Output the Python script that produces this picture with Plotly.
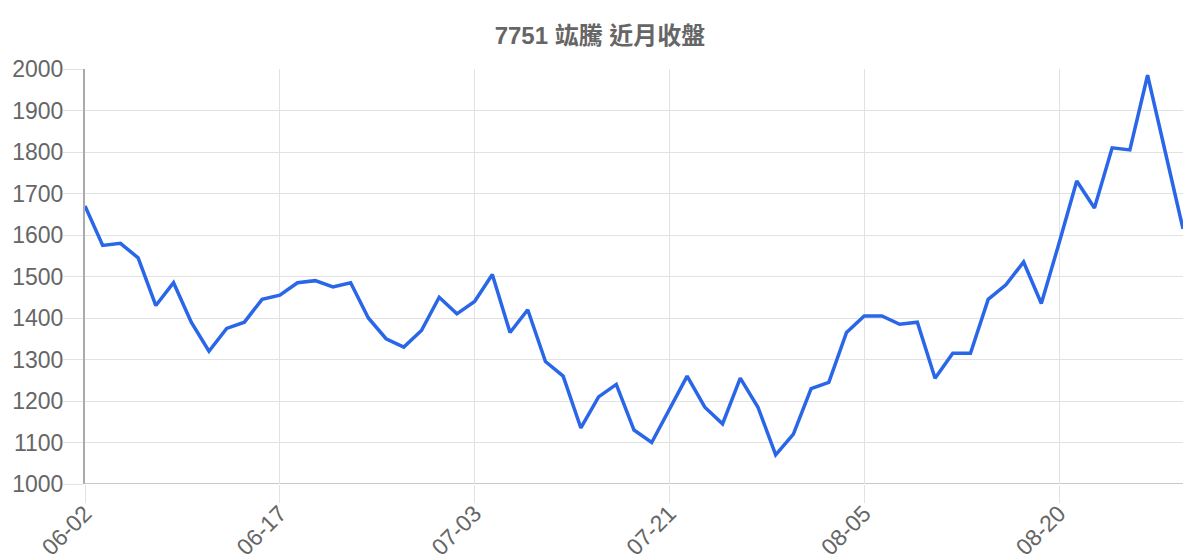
import plotly.graph_objects as go

# trading dates (MM-DD) and closing prices
dates = [
    "06-02", "06-03", "06-04", "06-05", "06-06", "06-09", "06-10", "06-11", "06-12", "06-13",
    "06-16", "06-17", "06-18", "06-19", "06-20", "06-23", "06-24", "06-25", "06-26", "06-27",
    "06-30", "07-01", "07-03", "07-04", "07-07", "07-08", "07-09", "07-10", "07-11", "07-14",
    "07-15", "07-16", "07-17", "07-21", "07-22", "07-23", "07-24", "07-25", "07-28", "07-29",
    "07-30", "07-31", "08-01", "08-04", "08-05", "08-06", "08-07", "08-08", "08-11", "08-12",
    "08-13", "08-14", "08-15", "08-18", "08-19", "08-20", "08-21", "08-22", "08-25", "08-26",
    "08-27", "08-28", "08-29",
]
closes = [
    1670, 1575, 1580, 1545, 1430, 1485, 1390, 1320, 1375, 1390,
    1445, 1455, 1485, 1490, 1475, 1485, 1400, 1350, 1330, 1370,
    1450, 1410, 1440, 1505, 1365, 1420, 1295, 1260, 1135, 1210,
    1240, 1130, 1100, 1180, 1260, 1185, 1145, 1255, 1185, 1070,
    1120, 1230, 1245, 1365, 1405, 1405, 1385, 1390, 1255, 1315,
    1315, 1445, 1480, 1535, 1435, 1580, 1730, 1665, 1810, 1805,
    1985, 1800, 1615,
]
tick_labels = ["06-02", "06-17", "07-03", "07-21", "08-05", "08-20"]
y_ticks = [1000, 1100, 1200, 1300, 1400, 1500, 1600, 1700, 1800, 1900, 2000]

font_family = "Liberation Sans, Arial, Noto Sans CJK TC, sans-serif"

fig = go.Figure(go.Scatter(
    x=dates, y=closes, mode="lines",
    line=dict(color="#2a66e8", width=3.5),
    hoverinfo="x+y",
))

fig.update_layout(
    width=1200, height=560,
    margin=dict(l=85, r=17, t=69, b=76),
    paper_bgcolor="white", plot_bgcolor="white",
    showlegend=False,
    font=dict(family=font_family, color="#666666", size=23),
    title=dict(
        text="7751 竑騰 近月收盤",
        x=0.5, xanchor="center", y=0.937, yanchor="middle",
        font=dict(family=font_family, size=24, color="#666666", weight="bold"),
    ),
)

fig.update_xaxes(
    type="category", range=[0, len(dates) - 1], automargin=False,
    tickmode="array", tickvals=tick_labels, ticktext=tick_labels,
    tickangle=-45, ticks="outside", ticklen=18, tickcolor="#e2e2e2",
    showgrid=True, gridcolor="#e2e2e2", gridwidth=1,
    showline=False, zeroline=False, ticklabelstandoff=-12,
    tickfont=dict(size=23, color="#666666"),
)
fig.update_yaxes(
    range=[1000, 2000], tickmode="array", tickvals=y_ticks, automargin=False,
    ticks="outside", ticklen=20, tickcolor="#e2e2e2",
    showgrid=True, gridcolor="#e2e2e2", gridwidth=1,
    showline=True, linecolor="#aaaaaa", linewidth=2,
    zeroline=False, ticklabelstandoff=-5,
    tickfont=dict(size=23, color="#666666"),
)
# darker baseline at 1000
fig.add_hline(y=1000, line=dict(color="#c8c8c8", width=2), layer="below")

fig.write_html("out.html", config={"displayModeBar": False},
               post_script="document.body.style.margin='0px';")
